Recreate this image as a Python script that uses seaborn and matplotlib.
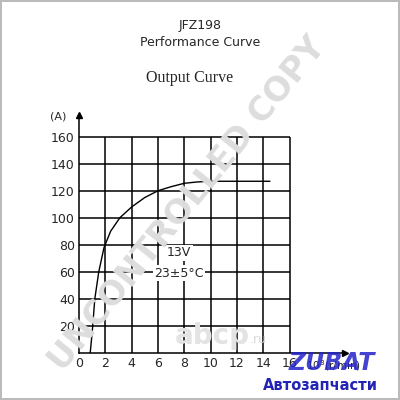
import matplotlib.pyplot as plt
import pandas as pd
import seaborn as sns

# output curve: speed (10^3 r/min) vs current (A)
speed = [0.85, 1.0, 1.2, 1.5, 1.9, 2.4, 3.1, 4.0, 5.0, 6.0, 7.0, 8.0, 9.0, 10.0, 12.0, 14.5]
current = [0, 15, 40, 60, 78, 90, 100, 108, 115, 120, 123, 125.5, 126.5, 127, 127, 127]

x_ticks = [0, 2, 4, 6, 8, 10, 12, 14, 16]
y_ticks = [20, 40, 60, 80, 100, 120, 140, 160]

df = pd.DataFrame({'Speed': speed, 'Current': current})

sns.set_style('white')
plt.rcParams['font.family'] = ['DejaVu Sans']

fig = plt.figure(figsize=(4, 4), dpi=100)
ax = fig.add_axes([0.1975, 0.1175, 0.665, 0.595])

# grid box, drawn only up to 16 / 160 like the printed sheet
ax.hlines(y_ticks, 0, x_ticks[-1], color='black', lw=1.1, zorder=1)
ax.vlines(x_ticks[1:], 0, y_ticks[-1], color='black', lw=1.1, zorder=1)

sns.lineplot(data=df, x='Speed', y='Current', color='black', lw=1.0, ax=ax, zorder=3)

ax.set_xlim(0, 20.2)
ax.set_ylim(0, 176)
ax.set_xticks(x_ticks)
ax.set_yticks(y_ticks)
ax.tick_params(length=0, labelsize=9, pad=3)
ax.set_xlabel('')
ax.set_ylabel('')
sns.despine(ax=ax)
for s in ['left', 'bottom']:
    ax.spines[s].set_color('black')
    ax.spines[s].set_linewidth(1.1)

# axis arrows
ax.plot(1, 0, '>k', ms=4, transform=ax.get_yaxis_transform(), clip_on=False)
ax.plot(0, 1, '^k', ms=4, transform=ax.get_xaxis_transform(), clip_on=False)

ax.text(7.6, 74, '13V', ha='center', va='center', fontsize=9,
        bbox=dict(facecolor='white', edgecolor='none', pad=1), zorder=4)
ax.text(7.6, 59, '23±5°C', ha='center', va='center', fontsize=9,
        bbox=dict(facecolor='white', edgecolor='none', pad=1), zorder=4)

fig.text(0.145, 0.708, '(A)', fontsize=8, ha='center', va='center')
fig.text(0.765, 0.085, '10$^3$(r/min)', fontsize=7.5, ha='left', va='center')

# headings
fig.text(0.5, 0.935, 'JFZ198', fontsize=9, ha='center', va='center')
fig.text(0.5, 0.893, 'Performance Curve', fontsize=9, ha='center', va='center')
fig.text(0.475, 0.805, 'Output Curve', fontsize=11.5, ha='center', va='center',
         family='Liberation Serif')

# watermarks
fig.text(0.47, 0.49, 'UNCONTROLLED COPY', fontsize=24, fontweight='bold',
         color='#dddddd', rotation=51, ha='center', va='center', zorder=0)
fig.text(0.53, 0.16, 'abcp', fontsize=20, fontweight='bold', color='#e3e3e3',
         ha='center', va='center', zorder=0)
fig.text(0.625, 0.152, '.ru', fontsize=9, color='#dadada', ha='left', va='center', zorder=0)

# shop logo
fig.text(0.83, 0.092, 'ZUBAT', fontsize=17, fontweight='bold', style='italic',
         color='#2323c8', alpha=0.85, ha='center', va='center')
fig.text(0.8, 0.037, 'Автозапчасти', fontsize=10.5, fontweight='bold',
         color='#2323b4', ha='center', va='center')

fig.patch.set_edgecolor('#bbbbbb')
fig.patch.set_linewidth(1.5)

fig.savefig('out.png', dpi=100)
